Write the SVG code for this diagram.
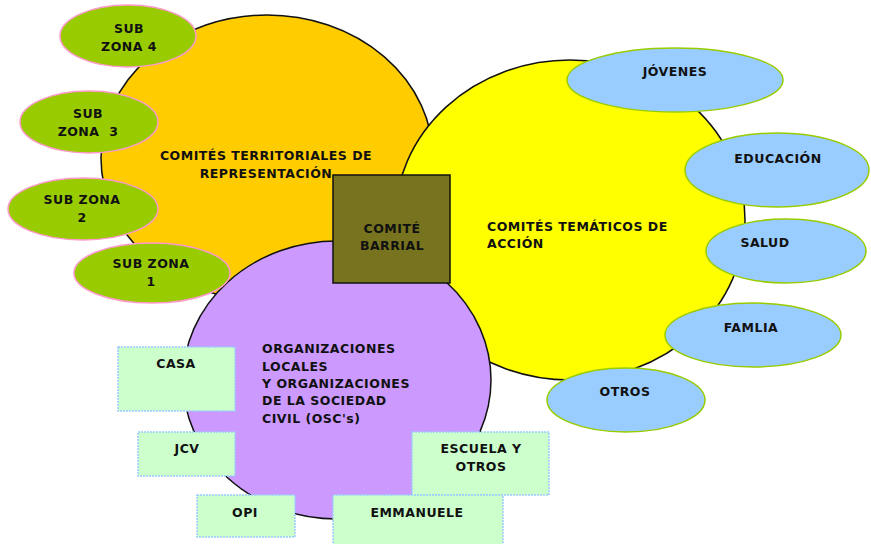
<svg xmlns="http://www.w3.org/2000/svg" width="871" height="544" viewBox="0 0 871 544">
<style>
text{font-family:"DejaVu Sans","Verdana",sans-serif;font-weight:bold;font-size:12.5px;letter-spacing:0.5px;fill:#111;}
.c{text-anchor:middle;}
.big{stroke:#111;stroke-width:1.5;}
.zone{fill:#99cc00;stroke:#ff99cc;stroke-width:1.5;}
.theme{fill:#99ccff;stroke:#99cc00;stroke-width:1.5;}
.org{fill:#ccffcc;stroke:#99ccff;stroke-width:1.5;stroke-dasharray:2 1;}
</style>
<rect width="871" height="544" fill="#ffffff"/>
<g id="territoriales"><ellipse class="big" cx="267" cy="158" rx="166" ry="143" fill="#ffcc00"/>
<text class="c" x="266" y="160">COMITÉS TERRITORIALES DE</text>
<text class="c" x="266" y="178">REPRESENTACIÓN</text></g>
<g id="tematicos"><ellipse class="big" cx="570" cy="220" rx="175" ry="160" fill="#ffff00"/>
<text x="487" y="231">COMITÉS TEMÁTICOS DE</text>
<text x="487" y="248">ACCIÓN</text></g>
<g id="organizaciones"><ellipse class="big" cx="337" cy="380" rx="154" ry="139" fill="#cc99ff"/>
<text x="262" y="353">ORGANIZACIONES</text>
<text x="262" y="371">LOCALES</text>
<text x="262" y="388">Y ORGANIZACIONES</text>
<text x="262" y="405">DE LA SOCIEDAD</text>
<text x="262" y="423">CIVIL (OSC's)</text></g>
<g id="barrial"><rect x="333" y="175" width="117" height="108" fill="#77731f" stroke="#111" stroke-width="1.5"/>
<text class="c" x="392" y="233">COMITÉ</text>
<text class="c" x="392" y="250">BARRIAL</text></g>
<g id="subzona4"><ellipse class="zone" cx="128" cy="36" rx="68" ry="31"/>
<text class="c" x="129" y="33">SUB</text><text class="c" x="129" y="51">ZONA 4</text></g>
<g id="subzona3"><ellipse class="zone" cx="89" cy="122" rx="69" ry="31"/>
<text class="c" x="88" y="118">SUB</text><text class="c" x="88" y="136" xml:space="preserve">ZONA  3</text></g>
<g id="subzona2"><ellipse class="zone" cx="83" cy="209" rx="75" ry="31"/>
<text class="c" x="82" y="204">SUB ZONA</text><text class="c" x="82" y="222">2</text></g>
<g id="subzona1"><ellipse class="zone" cx="152" cy="273" rx="78" ry="30"/>
<text class="c" x="151" y="268">SUB ZONA</text><text class="c" x="151" y="286">1</text></g>
<g id="jovenes"><ellipse class="theme" cx="675" cy="80" rx="108" ry="32"/>
<text class="c" x="675" y="76">JÓVENES</text></g>
<g id="educacion"><ellipse class="theme" cx="777" cy="170" rx="92" ry="37"/>
<text class="c" x="778" y="163">EDUCACIÓN</text></g>
<g id="salud"><ellipse class="theme" cx="786" cy="251" rx="80" ry="32"/>
<text class="c" x="765" y="247">SALUD</text></g>
<g id="familia"><ellipse class="theme" cx="753" cy="335" rx="88" ry="32"/>
<text class="c" x="751" y="332">FAMLIA</text></g>
<g id="otros"><ellipse class="theme" cx="626" cy="400" rx="79" ry="32"/>
<text class="c" x="625" y="396">OTROS</text></g>
<g id="casa"><rect class="org" x="118" y="347" width="117" height="64"/>
<text class="c" x="176" y="368">CASA</text></g>
<g id="jcv"><rect class="org" x="138" y="432" width="97" height="44"/>
<text class="c" x="187" y="453">JCV</text></g>
<g id="escuela"><rect class="org" x="412" y="432" width="137" height="63"/>
<text class="c" x="481" y="453">ESCUELA Y</text><text class="c" x="481" y="471">OTROS</text></g>
<g id="opi"><rect class="org" x="197" y="495" width="98" height="42"/>
<text class="c" x="245" y="517">OPI</text></g>
<g id="emmanuele"><rect class="org" x="333" y="495" width="170" height="52"/>
<text class="c" x="417" y="517">EMMANUELE</text></g>
<g id="connectors"></g>
</svg>
